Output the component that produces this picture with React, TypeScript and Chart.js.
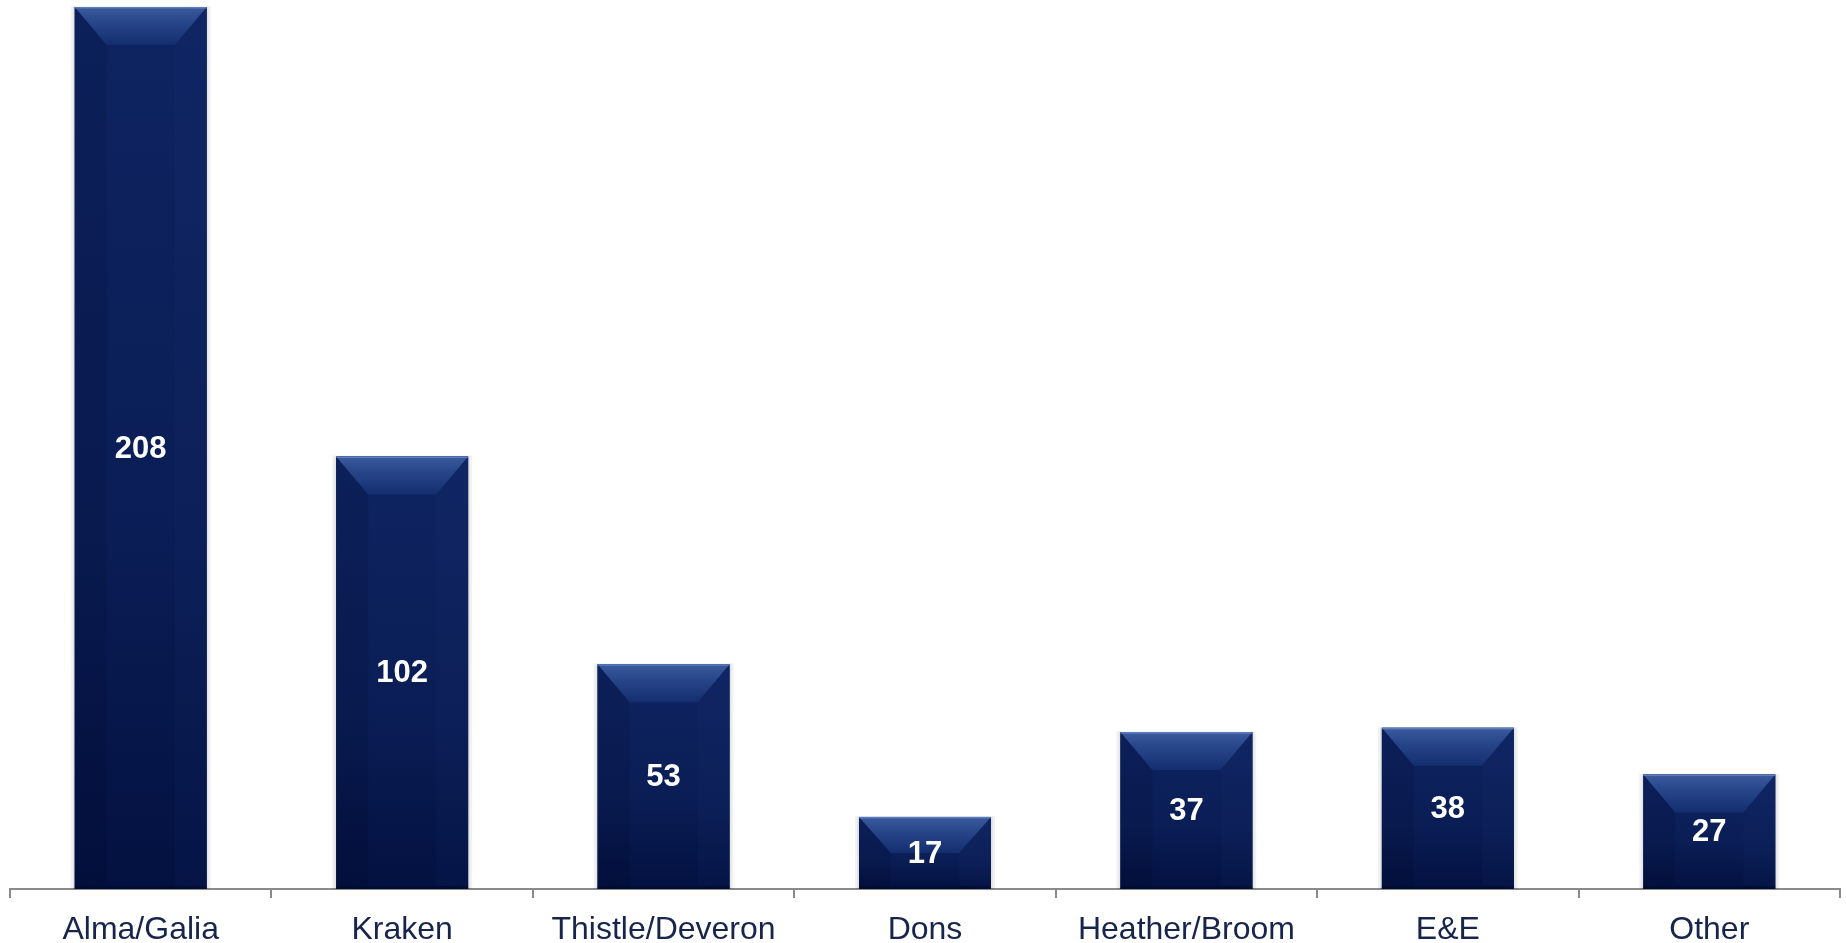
import React, { useEffect, useRef } from "react";
import { Chart, registerables } from "chart.js";

Chart.register(...registerables);

const categories = ["Alma/Galia", "Kraken", "Thistle/Deveron", "Dons", "Heather/Broom", "E&E", "Other"];
const values = [208, 102, 53, 17, 37, 38, 27];
const valueLabels = ["208", "102", "53", "17", "37", "38", "27"];

const FONT = "'Liberation Sans', Arial, Helvetica, sans-serif";

const bevelPlugin = {
  id: "bevelBars",
  afterDatasetsDraw(chart: any) {
    const ctx = chart.ctx as CanvasRenderingContext2D;
    const meta = chart.getDatasetMeta(0);
    meta.data.forEach((el: any, i: number) => {
      const p = el.getProps(["x", "y", "base", "width"], true);
      const x0 = p.x - p.width / 2;
      const x1 = p.x + p.width / 2;
      const y0 = Math.min(p.y, p.base);
      const y1 = Math.max(p.y, p.base);
      const w = x1 - x0;
      const h = y1 - y0;
      ctx.save();
      // soft shadow
      ctx.fillStyle = "rgba(0,0,0,0.05)";
      ctx.fillRect(x0 - 4, y0 - 1, w + 8, h + 1);
      ctx.fillStyle = "rgba(0,0,0,0.05)";
      ctx.fillRect(x0 - 2, y0, w + 4, h);
      // body
      const g = ctx.createLinearGradient(0, y0, 0, y1);
      g.addColorStop(0, "#0e2461");
      g.addColorStop(0.6, "#0a1d55");
      g.addColorStop(1, "#031140");
      ctx.fillStyle = g;
      ctx.fillRect(x0, y0, w, h);
      const b = 32;
      const bv = Math.min(38, h * 0.5);
      // left / right bevels
      ctx.fillStyle = "rgba(0,0,20,0.10)";
      ctx.beginPath();
      ctx.moveTo(x0, y0);
      ctx.lineTo(x0 + b, y0 + bv);
      ctx.lineTo(x0 + b, y1 - 4);
      ctx.lineTo(x0, y1);
      ctx.closePath();
      ctx.fill();
      ctx.fillStyle = "rgba(40,70,140,0.07)";
      ctx.beginPath();
      ctx.moveTo(x1, y0);
      ctx.lineTo(x1 - b, y0 + bv);
      ctx.lineTo(x1 - b, y1 - 4);
      ctx.lineTo(x1, y1);
      ctx.closePath();
      ctx.fill();
      // top bevel
      const tg = ctx.createLinearGradient(0, y0, 0, y0 + bv);
      tg.addColorStop(0, "#3c5b9f");
      tg.addColorStop(0.4, "#27468a");
      tg.addColorStop(1, "#132e6f");
      ctx.fillStyle = tg;
      ctx.beginPath();
      ctx.moveTo(x0, y0);
      ctx.lineTo(x1, y0);
      ctx.lineTo(x1 - b, y0 + bv);
      ctx.lineTo(x0 + b, y0 + bv);
      ctx.closePath();
      ctx.fill();
      // top highlight line
      ctx.fillStyle = "rgba(110,140,200,0.7)";
      ctx.fillRect(x0, y0, w, 1.5);
      // bottom dark edge
      ctx.fillStyle = "rgba(0,5,30,0.35)";
      ctx.fillRect(x0, y1 - 3, w, 3);
      // value label
      ctx.fillStyle = "#ffffff";
      ctx.font = `bold 31px ${FONT}`;
      ctx.textAlign = "center";
      ctx.textBaseline = "middle";
      ctx.fillText(valueLabels[i], p.x, (y0 + y1) / 2 + 1);
      ctx.restore();
    });
  },
};

export default function App() {
  const ref = useRef<HTMLCanvasElement | null>(null);
  useEffect(() => {
    if (!ref.current) return;
    const chart = new Chart(ref.current, {
      type: "bar",
      data: {
        labels: categories,
        datasets: [
          {
            data: values,
            backgroundColor: "#0b2158",
            borderWidth: 0,
            barPercentage: 0.505,
            categoryPercentage: 1,
          },
        ],
      },
      options: {
        animation: false,
        responsive: false,
        devicePixelRatio: 1,
        layout: { padding: { top: 7, left: 10, right: 6, bottom: 0 } },
        plugins: { legend: { display: false }, tooltip: { enabled: false } },
        scales: {
          x: {
            grid: {
              display: true,
              drawOnChartArea: false,
              drawTicks: true,
              tickLength: 9,
              color: "#8a8a8a",
              lineWidth: 2,
            },
            border: { display: true, color: "#8a8a8a", width: 2 },
            ticks: {
              color: "#17254d",
              padding: 16,
              font: { size: 32, family: FONT, lineHeight: 1 },
            },
          },
          y: { display: false, min: 0, max: 208 },
        },
      },
      plugins: [bevelPlugin],
    });
    return () => chart.destroy();
  }, []);
  return (
    <div
      style={{
        position: "fixed",
        left: 0,
        top: 0,
        width: 1846,
        height: 943,
        overflow: "hidden",
        background: "#fff",
      }}
    >
      <canvas ref={ref} width={1846} height={962} style={{ display: "block" }} />
    </div>
  );
}
